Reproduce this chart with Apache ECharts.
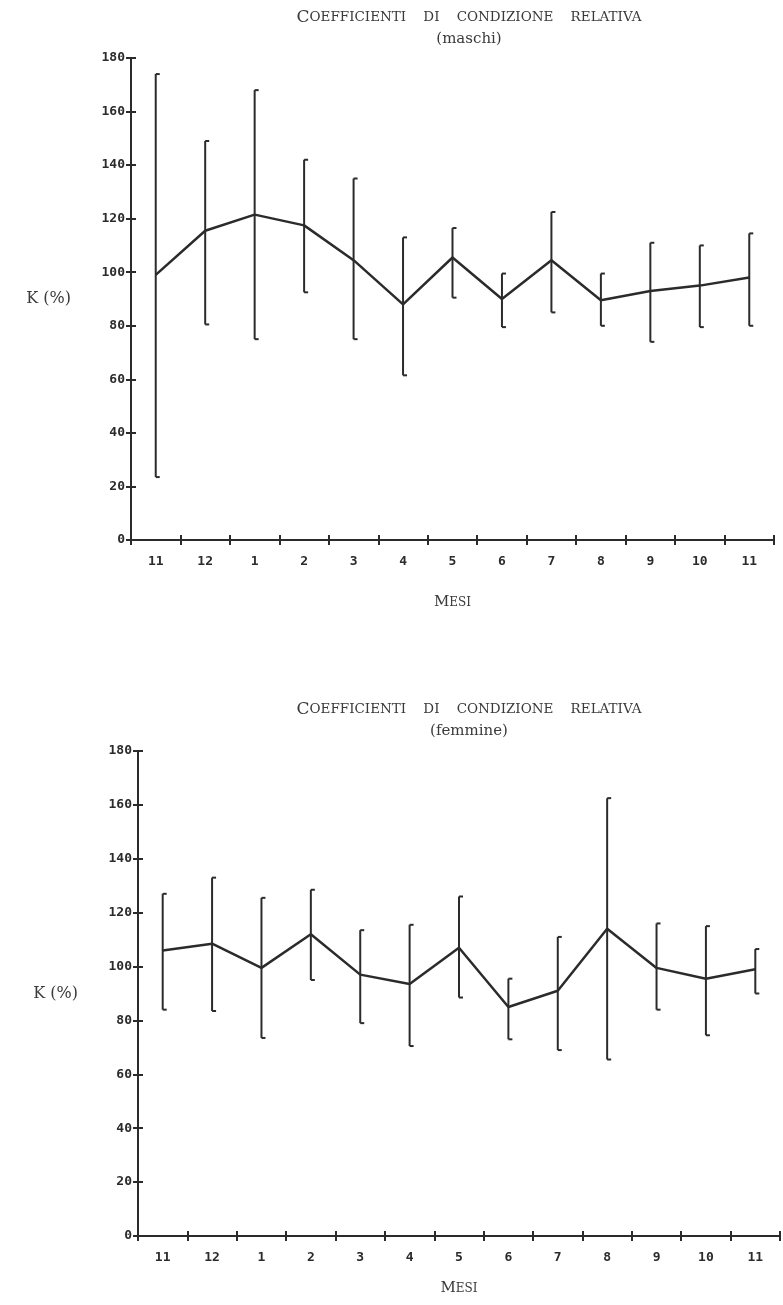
<!DOCTYPE html>
<html>
<head>
<meta charset="utf-8">
<script src="https://cdn.jsdelivr.net/npm/echarts@6/dist/echarts.min.js"></script>
<style>
  html, body { margin: 0; padding: 0; background: #fff; }
  #chart { width: 783px; height: 1305px; }
</style>
</head>
<body>
<div id="chart"></div>
<script>
// mesi di campionamento (da novembre a novembre)
const months = ['11', '12', '1', '2', '3', '4', '5', '6', '7', '8', '9', '10', '11'];

// maschi: media e limiti dell'intervallo
const maleMean = [99, 115.5, 121.5, 117.5, 104.5, 88, 105.5, 90, 104.5, 89.5, 93, 95, 98];
const maleLow = [23.5, 80.5, 75, 92.5, 75, 61.5, 90.5, 79.5, 85, 80, 74, 79.5, 80];
const maleHigh = [174, 149, 168, 142, 135, 113, 116.5, 99.5, 122.5, 99.5, 111, 110, 114.5];

// femmine
const femMean = [106, 108.5, 99.5, 112, 97, 93.5, 107, 85, 91, 114, 99.5, 95.5, 99];
const femLow = [84, 83.5, 73.5, 95, 79, 70.5, 88.5, 73, 69, 65.5, 84, 74.5, 90];
const femHigh = [127, 133, 125.5, 128.5, 113.5, 115.5, 126, 95.5, 111, 162.5, 116, 115, 106.5];

const yTicks = { min: 0, max: 180, interval: 20 };

const ink = '#2b2b2b';
const textInk = '#3a3a3a';
const tickFont = { fontFamily: 'DejaVu Sans Mono', fontWeight: 'bold', fontSize: 13, color: ink };

const chart = echarts.init(document.getElementById('chart'));

const errorData = (low, high) => low.map((l, i) => [i, l, high[i]]);

const renderErrorBar = (params, api) => {
  const x = api.value(0);
  const bot = api.coord([x, api.value(1)]);
  const top = api.coord([x, api.value(2)]);
  const style = { stroke: ink, lineWidth: 2 };
  const cap = 4;
  return {
    type: 'group',
    children: [
      { type: 'line', shape: { x1: top[0], y1: top[1], x2: bot[0], y2: bot[1] }, style },
      { type: 'line', shape: { x1: top[0], y1: top[1], x2: top[0] + cap, y2: top[1] }, style },
      { type: 'line', shape: { x1: bot[0], y1: bot[1], x2: bot[0] + cap, y2: bot[1] }, style }
    ]
  };
};

const titleRich = {
  c: { fontFamily: 'DejaVu Serif', fontWeight: 'normal', fontSize: 17, color: textInk },
  s: { fontFamily: 'DejaVu Serif', fontWeight: 'normal', fontSize: 13.5, color: textInk }
};

const makeTitle = (top, sub) => ({
  text: '{c|C}{s|OEFFICIENTI    DI    CONDIZIONE    RELATIVA}',
  subtext: sub,
  left: 464,
  top: top,
  textAlign: 'center',
  itemGap: 6,
  textStyle: { rich: titleRich },
  subtextStyle: { fontFamily: 'DejaVu Serif', fontSize: 15, color: textInk }
});

// asse x: due assi sovrapposti per avere le tacche a croce
const makeX = (gridIndex, gap, withLabels) => ({
  type: 'category',
  gridIndex,
  position: 'bottom',
  data: months,
  boundaryGap: true,
  axisLine: { show: withLabels, lineStyle: { color: ink, width: 2 } },
  axisTick: { show: true, inside: !withLabels, length: 5, lineStyle: { color: ink, width: 2 } },
  axisLabel: Object.assign({ show: withLabels, margin: 15 }, tickFont),
  splitLine: { show: false },
  name: withLabels ? '{a|M}{b|ESI}' : '',
  nameLocation: 'middle',
  nameGap: gap,
  nameTextStyle: {
    rich: {
      a: { fontFamily: 'DejaVu Serif', fontSize: 15, color: textInk },
      b: { fontFamily: 'DejaVu Serif', fontSize: 12, color: textInk }
    }
  }
});

const makeY = (gridIndex, withLabels) => ({
  type: 'value',
  gridIndex,
  position: 'left',
  min: yTicks.min,
  max: yTicks.max,
  interval: yTicks.interval,
  axisLine: { show: withLabels, lineStyle: { color: ink, width: 2 } },
  axisTick: { show: true, inside: !withLabels, length: 5, lineStyle: { color: ink, width: 2 } },
  axisLabel: Object.assign({ show: withLabels, margin: 6 }, tickFont),
  splitLine: { show: false },
  name: withLabels ? 'K (%)' : '',
  nameLocation: 'middle',
  nameRotate: 0,
  nameGap: 60,
  nameTextStyle: { fontFamily: 'DejaVu Serif', fontSize: 16, color: textInk }
});

const option = {
  backgroundColor: '#fff',
  animation: false,
  title: [makeTitle(4, '(maschi)'), makeTitle(696, '(femmine)')],
  grid: [
    { left: 131, top: 58, width: 643, height: 482 },
    { left: 138, top: 751, width: 642, height: 485 }
  ],
  xAxis: [makeX(0, 55, true), makeX(0, 0, false), makeX(1, 45, true), makeX(1, 0, false)],
  yAxis: [makeY(0, true), makeY(0, false), makeY(1, true), makeY(1, false)],
  series: [
    {
      name: 'maschi',
      type: 'line',
      xAxisIndex: 0,
      yAxisIndex: 0,
      data: maleMean,
      symbol: 'none',
      lineStyle: { color: ink, width: 2.5 },
      z: 3
    },
    {
      name: 'maschi intervallo',
      type: 'custom',
      xAxisIndex: 0,
      yAxisIndex: 0,
      data: errorData(maleLow, maleHigh),
      renderItem: renderErrorBar,
      z: 2
    },
    {
      name: 'femmine',
      type: 'line',
      xAxisIndex: 2,
      yAxisIndex: 2,
      data: femMean,
      symbol: 'none',
      lineStyle: { color: ink, width: 2.5 },
      z: 3
    },
    {
      name: 'femmine intervallo',
      type: 'custom',
      xAxisIndex: 2,
      yAxisIndex: 2,
      data: errorData(femLow, femHigh),
      renderItem: renderErrorBar,
      z: 2
    }
  ]
};

chart.setOption(option);
</script>
</body>
</html>
